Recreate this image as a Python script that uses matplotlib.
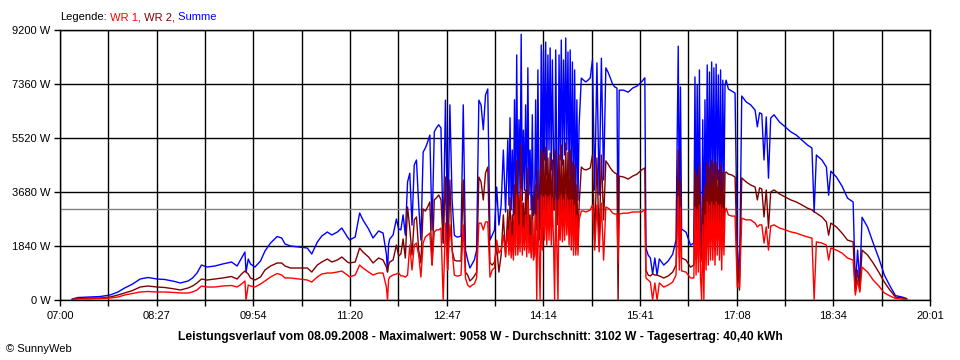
import matplotlib
matplotlib.use("Agg")
import matplotlib.pyplot as plt

plt.rcParams['font.family'] = ['Liberation Sans', 'DejaVu Sans']

# time axis: minutes after 07:00, values in W
# morning (smooth part)
t_morning = [11, 16, 27, 36, 45, 52, 58, 65, 72, 79,
             87, 94, 103, 108, 115, 119, 123, 127, 132, 139,
             146, 154, 159, 163, 166, 167, 169, 171, 175, 180,
             184, 189, 195, 199, 202, 207, 215, 222, 226, 231,
             235, 240, 244, 249, 253, 258, 260, 265, 269, 272,
             277, 281, 286, 290, 293, 294, 295, 296, 299, 302,
             304]
wr1_morning = [17, 34, 34, 50, 68, 102, 170, 220, 273, 290,
               273, 273, 256, 238, 238, 273, 341, 477, 443, 443,
               477, 494, 443, 545, 647, 0, 511, 477, 443, 545,
               647, 784, 903, 852, 750, 750, 715, 681, 613, 784,
               886, 920, 920, 954, 988, 852, 784, 852, 1192, 1090,
               954, 852, 920, 920, 443, 0, 700, 784, 852, 886,
               920]
wr2_morning = [17, 50, 68, 68, 102, 170, 238, 320, 443, 477,
               443, 426, 375, 341, 409, 477, 579, 715, 681, 715,
               750, 800, 715, 886, 988, 954, 886, 750, 681, 784,
               1022, 1158, 1261, 1261, 1158, 1090, 1090, 1090, 954, 1192,
               1295, 1397, 1295, 1363, 1465, 1295, 1261, 1295, 1772, 1635,
               1465, 1261, 1431, 1363, 1124, 954, 1200, 1295, 1363, 1874,
               1500]

# midday (clouds, strong fluctuations)
t_midday = ([306, 308, 310, 312, 314, 316, 318, 320, 322, 324,
             326, 328, 330, 332, 334, 336, 338, 340, 342, 344,
             346, 348, 350, 352, 354, 356, 358, 360, 362, 364,
             366, 368, 370, 372, 374, 376, 378, 380, 382, 384,
             386, 388, 390, 392, 394, 396, 398, 400]
            + list(range(402, 467))
            + [468, 470, 472, 474, 476, 478, 480, 482,
               484, 486, 488, 490, 492, 494, 496, 498, 500, 501,
               502, 506, 510, 514, 518, 522, 525, 526])
wr1_midday = [820, 820, 780, 850, 1870, 1020, 1870, 1940, 1530, 780,
              1940, 2150, 2210, 2280, 1190, 2320, 2390, 2390, 2450, 0,
              2620, 1020, 2560, 1700, 850, 820, 820, 850, 2560, 750,
              510, 440, 510, 550, 750, 2620, 2620, 2390, 2660, 2660,
              780, 1020, 1090, 2040, 1600, 1700, 2210, 1530,
              # 402 .. 425 (1 min)
              2390, 1530, 2730, 1430, 2210, 1360, 2900, 1530, 3580, 1530,
              2560, 1640, 3778, 1530, 2490, 1700, 2900, 1470, 3410, 1600,
              2210, 1430, 2730, 1360,
              # 426 .. 466 (1 min)
              1530, 2900, 0, 3410, 1700, 0, 3580, 1700, 3510, 2040,
              3580, 1870, 3510, 2040, 3580, 1870, 3410, 2040, 0, 3410,
              1870, 0, 3410, 2040, 3580, 1980, 3410, 2040, 3580, 2210,
              3410, 1870, 3410, 1700, 3410, 1530, 3240, 1530, 2900, 1530,
              2730,
              3030, 3030, 3000, 3030, 3070, 3240, 1700, 3240,
              1640, 3300, 1360, 3170, 3130, 3070, 2960, 2930, 2930, 1260,
              2930, 2960, 2960, 3000, 3000, 3000, 3070, 750]
wr2_midday = [1570, 2080, 1430, 3170, 2450, 1530, 2730, 2830, 1700, 1260,
              3100, 3030, 3170, 3340, 1190, 3410, 3480, 3580, 3410, 1940,
              4190, 1020, 4090, 1700, 1360, 1330, 1330, 1330, 4090, 950,
              850, 650, 720, 820, 950, 4190, 4020, 3410, 4330, 4530,
              1260, 1190, 1290, 1810, 950, 1530, 2900, 1470,
              # 402 .. 425
              3070, 1700, 3480, 1640, 2900, 1530, 3920, 1870, 4770, 1700,
              3580, 1940, 5280, 1870, 3300, 2040, 3750, 1770, 4500, 1980,
              2900, 1640, 3580, 1530,
              # 426 .. 466
              1530, 3920, 2390, 4430, 2040, 2450, 5110, 2390, 5010, 2730,
              5210, 2390, 4840, 3070, 5010, 2560, 4770, 3070, 3070, 5110,
              2560, 2900, 4940, 2730, 5280, 2620, 4770, 2900, 5350, 2900,
              5040, 2390, 5110, 2210, 4700, 1870, 4600, 1700, 3920, 1870,
              3240,
              4530, 4460, 4430, 4460, 4500, 4940, 2040, 4840,
              1940, 4940, 2730, 4740, 4630, 4500, 4400, 4330, 4290, 0,
              4220, 4190, 4120, 4220, 4290, 4430, 4500, 1020]

# afternoon / evening
t_evening = ([528, 530, 532, 534, 536, 538, 542, 546, 550, 553,
              555, 556, 557, 558, 562, 566, 569]
             + list(range(570, 598))
             + [598, 600, 603, 606, 608, 610, 612, 616, 620,
                624, 626, 628, 630, 632, 634, 636, 638, 641, 646,
                651, 656, 661, 666, 671, 675, 677, 679, 684, 688,
                690, 692, 697, 702, 707, 712, 714, 716, 718, 720,
                725, 730, 735, 740, 745, 750, 756, 760])
wr1_evening = [680, 610, 0, 580, 0, 580, 440, 510, 610, 850,
               3540, 1020, 3170, 990, 950, 750, 750,
               # 570 .. 597
               3170, 850, 3070, 950, 3240, 750, 0, 2560, 0, 2900,
               1020, 3340, 1190, 3240, 1360, 3340, 1360, 3240, 1190, 3340,
               1530, 3240, 1360, 3240, 1020, 3130, 1530, 3000,
               3130, 2900, 2860, 2860, 440, 440, 2790, 2730, 2730,
               2620, 2490, 2560, 2560, 1940, 2490, 1700, 2520, 2560, 2450,
               2390, 2320, 2280, 2210, 2150, 2110, 0, 1980, 1940, 1870,
               1360, 1770, 1700, 1600, 1430, 1360, 170, 680, 270, 1120,
               950, 680, 480, 240, 140, 50, 30, 20]
wr2_evening = [850, 820, 890, 850, 850, 820, 750, 820, 950, 1190,
               5110, 1430, 4090, 1430, 1360, 1120, 1190,
               # 570 .. 597
               4430, 1360, 4260, 1430, 4600, 1290, 1530, 3580, 1700, 3920,
               1700, 4670, 1870, 4530, 2040, 4770, 2390, 4670, 2040, 4700,
               2560, 4430, 2040, 4600, 1700, 4360, 2210, 4330,
               4360, 4290, 4260, 4190, 1360, 340, 4160, 4020, 3920,
               3850, 3410, 3820, 3780, 2830, 3750, 2450, 3680, 3750, 3610,
               3510, 3410, 3340, 3240, 3130, 3070, 3000, 2960, 2830, 2660,
               2210, 2620, 2490, 2280, 2040, 1980, 270, 1020, 340, 1700,
               1530, 1260, 950, 610, 340, 100, 70, 30]

minutes = t_morning + t_midday + t_evening
wr1 = wr1_morning + wr1_midday + wr1_evening
wr2 = wr2_morning + wr2_midday + wr2_evening
summe = [a + b for a, b in zip(wr1, wr2)]

average_w = 3102
span_min = 781  # 07:00 .. 20:01
x_labels = ["07:00", "08:27", "09:54", "11:20", "12:47",
            "14:14", "15:41", "17:08", "18:34", "20:01"]
y_values = [0, 1840, 3680, 5520, 7360, 9200]
title = ("Leistungsverlauf vom 08.09.2008 - Maximalwert: 9058 W - "
         "Durchschnitt: 3102 W - Tagesertrag: 40,40 kWh")

W, H = 960, 360
fig = plt.figure(figsize=(W / 100, H / 100), dpi=100)
ax = fig.add_axes([60 / W, 60 / H, 870 / W, 270 / H])

ax.plot(minutes, summe, color='#0000ff', lw=1.0, zorder=3)
ax.plot(minutes, wr2, color='#800000', lw=1.0, zorder=4)
ax.plot(minutes, wr1, color='#ff0000', lw=1.0, zorder=5)
ax.axhline(average_w, color='#808080', lw=1.0, zorder=2)

ax.set_xlim(0, span_min)
ax.set_ylim(0, 9200)
step = span_min / 18
ax.set_xticks([i * step for i in range(0, 19, 2)])
ax.set_xticklabels(x_labels)
ax.set_xticks([i * step for i in range(1, 18, 2)], minor=True)
ax.set_yticks(y_values)
ax.set_yticklabels([f"{v} W" for v in y_values])

ax.grid(which='both', axis='x', color='black', lw=1.0)
ax.grid(which='major', axis='y', color='black', lw=1.0)
ax.set_axisbelow(True)
ax.tick_params(which='both', direction='out', length=4, width=1.0,
               color='black', labelsize=8, pad=3)
ax.tick_params(axis='x', pad=4)
for s in ax.spines.values():
    s.set_linewidth(1.0)
    s.set_color('black')

# legend as coloured text pieces
renderer = fig.canvas.get_renderer()
legend_parts = [("Legende:", 'black'), (" WR 1,", '#ff0000'),
                (" WR 2,", '#800000'), (" Summe", '#0000ff')]
xpos = 60
for txt, col in legend_parts:
    t = fig.text(xpos / W, 1 - 17 / H, txt, color=col, fontsize=8,
                 ha='left', va='center')
    xpos = t.get_window_extent(renderer).x1

fig.text(0.5, 1 - 337 / H, title, fontsize=8.7, fontweight='bold',
         ha='center', va='center')
fig.text(6 / W, 1 - 349 / H, "\u00a9 SunnyWeb", fontsize=8,
         ha='left', va='center')

fig.savefig("out.png", dpi=100)
